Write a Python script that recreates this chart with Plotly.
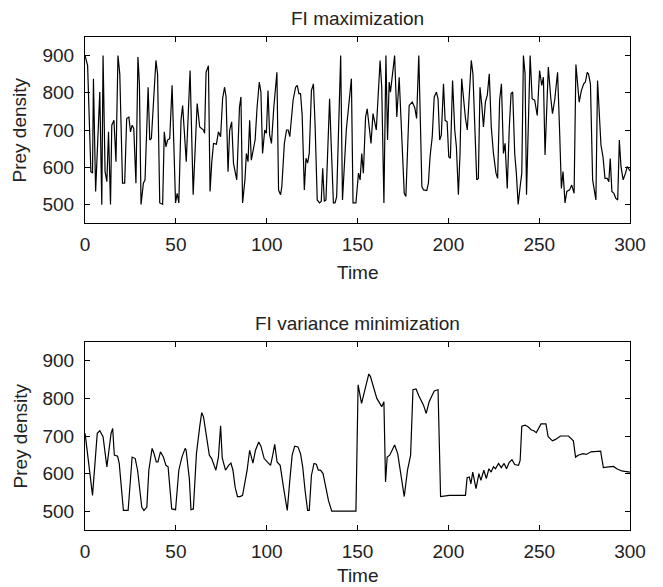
import plotly.graph_objects as go

# ---- Data ----
t_max = [0, 1.4, 3.2, 4.1, 4.6, 5.8, 8.1, 9.2, 9.9, 11, 12, 12.9, 14, 14.7, 15.9, 17, 18.1, 19.1, 20.6, 21.8,
         22.9, 24.1, 25, 25.9, 26.8, 28, 29.1, 29.9, 30.8, 32.1, 33, 34.7, 35.6, 36.5, 39, 39.9, 41.1, 42.7, 43.6,
         44.5, 45.4, 46.6, 47.9, 49.8, 50.7, 51.6, 52.8, 53.7, 55.7, 57.8, 59.5, 61.7, 63.1, 64.3, 65.2, 65.8,
         66.6, 67.9, 68.8, 69.7, 70.7, 72.3, 73.4, 74.6, 75.7, 76.8, 77.6, 78.7, 79.6, 80.7, 81.7, 83.5, 85, 85.8,
         86.7, 88, 88.8, 89.7, 90.6, 91.5, 92.7, 93.6, 94.7, 95.9, 96.8, 97.7, 98.9, 99.8, 100.7, 101.6, 102.6,
         103.9, 105.6, 106.5, 107.6, 108.3, 109.7, 110.9, 111.8, 112.7, 114.5, 115.9, 116.8, 117.7, 118.6, 119.5,
         120.7, 121.6, 122.5, 123.4, 124.6, 125.7, 126.6, 127.8, 129.1, 130, 130.8, 131.7, 132.6, 134.6, 135.4,
         136.7, 137.6, 138.5, 140.7, 141.7, 143.8, 145.6, 146.6, 147.5, 149.1, 150.5, 151.4, 152.3, 153.2, 154.4,
         155.3, 157.4, 158.5, 160.3, 161.1, 162.4, 163.3, 164.5, 165.6, 166.5, 167.4, 168.1, 170.4, 171.6, 172.9,
         175.7, 176.6, 178.4, 180.1, 181.5, 182.5, 183.7, 184.6, 185.4, 186.3, 188.1, 189, 189.9, 191.1, 192.2,
         193.4, 194.3, 195.2, 196.1, 197.3, 198.2, 199.3, 200.2, 201.1, 202.3, 203.5, 204.4, 205.5, 206.4, 207.3,
         208.5, 209.4, 210.4, 211.5, 212.6, 213.5, 214.7, 215.6, 216.5, 217.4, 218.4, 219.3, 220.4, 221.4, 222.5,
         223.6, 224.8, 226.2, 227.1, 228.2, 229.2, 230.3, 231.2, 232.4, 233.5, 234.5, 235.4, 236.5, 237.4, 238.4,
         239.5, 240.4, 241.3, 242.2, 243, 245, 246.1, 247.5, 248.9, 250.2, 251.4, 252.3, 253.2, 255, 256.4, 257.3,
         258.5, 260.1, 261.2, 262.2, 263.1, 264.2, 265.2, 266.7, 267.9, 269.2, 270.2, 272, 273.2, 274.5, 275.4,
         276.4, 277.1, 278.2, 279.4, 281.2, 282.1, 283, 284, 285.1, 286.2, 287.4, 288.3, 289.1, 290, 291.1, 292.1,
         293.2, 294.1, 295, 296.2, 297.5, 298.5, 300]
prey_max = [900, 873, 588, 584, 838, 535, 802, 499, 900, 588, 561, 695, 500, 713, 726, 615, 900, 851, 557, 557,
            731, 735, 695, 713, 704, 557, 896, 824, 500, 557, 566, 815, 673, 677, 887, 851, 504, 500, 695,
            655, 673, 677, 820, 504, 530, 504, 726, 766, 615, 860, 526, 771, 708, 704, 700, 691,
            855, 873, 535, 611, 664, 662, 695, 682, 784, 815, 789, 588, 700, 722, 610, 566, 762, 789,
            504, 566, 637, 615, 726, 619, 646, 673, 762, 829, 802, 637, 700, 691, 806, 687, 664,
            762, 855, 539, 526, 548, 664, 700, 700, 682, 780, 815, 820, 798, 798, 740,
            539, 624, 611, 637, 806, 824, 717, 512, 504, 508, 597, 508, 512, 784, 673,
            504, 504, 521, 900, 512, 700, 780, 838, 504, 504, 584, 566, 637, 584, 735,
            757, 664, 744, 700, 780, 887, 815, 504, 900, 673, 829, 802, 900, 735, 842,
            530, 521, 766, 775, 760, 731, 900, 717, 548, 539, 537, 557, 628, 682, 789,
            802, 784, 673, 686, 824, 726, 722, 628, 624, 833, 700, 655, 526, 637, 838,
            762, 731, 700, 798, 887, 851, 673, 566, 570, 815, 766, 708, 776, 793, 851,
            708, 637, 584, 570, 780, 824, 637, 664, 543, 704, 798, 802, 637, 584, 500,
            548, 584, 900, 851, 526, 900, 784, 780, 739, 860, 820, 842, 633, 869, 784, 744,
            780, 855, 700, 543, 588, 504, 535, 539, 552, 530, 876, 775, 806, 824, 829,
            855, 851, 824, 566, 512, 833, 762, 659, 628, 570, 570, 561, 623, 535, 530, 517,
            512, 673, 602, 566, 584, 602, 590]

t_var = [0, 4.1, 6.7, 8.1, 9.9, 12, 14.3, 15.2, 16.1, 17.9, 18.8, 21.1, 23.7, 25.9, 27.6, 28.9, 31.2, 32.4, 34,
         35.1, 36.9, 37.9, 39.2, 40.1, 41.5, 43.1, 44.5, 45.7, 47.7, 49.8, 51.6, 53.3, 55.1, 55.6, 57.4, 58.3,
         59.6, 61.3, 63.1, 64.2, 65.2, 66.7, 68.4, 69.7, 72, 73.4, 74.6, 75.5, 77.3, 79, 80.3, 81.4, 82.6, 83.9,
         85.3, 86.7, 88, 89.2, 90.6, 92.4, 93.8, 95.6, 96.8, 98.6, 100.3, 102.1, 103.3, 104.4, 105.7, 107.4,
         109.2, 111.3, 112.7, 114, 115.4, 117.2, 118.6, 119.8, 121.1, 122.5, 123.4, 124.6, 126, 127.3, 128.4,
         129.6, 131, 132.3, 134, 135.8, 149.1, 150.3, 152.2, 154.4, 156.2, 157.1, 158.5, 160.6, 163.3, 164.5,
         165.4, 166.3, 167.7, 170.4, 172.1, 173.4, 175.7, 177.5, 179.2, 180.5, 182.2, 183.7, 186.3, 187.8,
         189.4, 192.2, 194.3, 195.7, 200.5, 209.4, 210.3, 211.5, 212.4, 213.4, 215.2, 216.8, 217.9, 219.5,
         220.9, 222.3, 223.5, 224.8, 225.9, 227.6, 229.1, 230.7, 232, 233.5, 235, 236.5, 238.6, 239.5, 240.4,
         242.2, 244, 245.7, 247, 248.4, 250, 251, 253.7, 254.9, 257.3, 259, 261.7, 266.1, 268.8, 270, 271.4,
         274.1, 275.9, 278.5, 283.8, 285.3, 288.3, 290.9, 292.7, 295.4, 297.1, 300]
prey_var = [707, 542, 707, 714, 698, 618, 707, 720, 649, 646, 627, 502, 502, 644, 640, 609, 511, 502, 511,
            609, 667, 654, 631, 631, 658, 644, 622, 618, 506, 504, 609, 644, 667, 663, 586, 504,
            506, 653, 725, 762, 751, 707, 649, 640, 609, 644, 727, 642, 609, 622, 628, 609, 564, 539,
            539, 542, 572, 609, 662, 628, 662, 684, 673, 640, 631, 622, 649, 678, 631, 622,
            564, 502, 582, 649, 673, 671, 653, 618, 555, 502, 502, 595, 627, 625, 609,
            609, 600, 564, 528, 500, 500, 836, 787, 830, 865, 858, 836, 800, 778, 791,
            578, 644, 649, 676, 653, 609, 539, 609, 649, 823, 825, 807, 782, 760,
            791, 820, 823, 539, 542, 542, 589, 591, 573, 604, 560, 600, 582, 609,
            587, 613, 604, 618, 613, 627, 616, 627, 613, 630, 637, 624, 622, 635, 726,
            729, 724, 716, 714, 709, 725, 732, 732, 698, 687, 691, 700, 700, 687, 644, 649,
            653, 651, 658, 660, 616, 618, 619, 613, 607, 606, 604]

x_ticks = [0, 50, 100, 150, 200, 250, 300]
y_ticks = [500, 600, 700, 800, 900]
titles = ["FI maximization", "FI variance minimization"]

W, H = 663, 587
FONT = "Liberation Sans, Arial, Helvetica, sans-serif"
FS = 19

def px(x):
    return x / W

def py(y):
    return 1 - y / H

fig = go.Figure()
fig.add_trace(go.Scatter(x=t_max, y=prey_max, mode="lines",
                         line=dict(color="black", width=1.2), xaxis="x", yaxis="y", showlegend=False))
fig.add_trace(go.Scatter(x=t_var, y=prey_var, mode="lines",
                         line=dict(color="black", width=1.2), xaxis="x2", yaxis="y2", showlegend=False))

xdom = [px(82.7), px(645.5)]
top = (37, 223)
bot = (342, 530)

axis_common = dict(showline=True, linecolor="black", linewidth=1.4, mirror="ticks",
                   ticks="inside", ticklen=5, tickwidth=1, tickcolor="black",
                   showgrid=False, zeroline=False,
                   tickfont=dict(family=FONT, size=FS, color="#222"))

fig.update_layout(
    width=W, height=H,
    margin=dict(l=0, r=0, t=0, b=0),
    paper_bgcolor="white", plot_bgcolor="white",
    xaxis=dict(domain=xdom, range=[0, 300], tickvals=x_ticks, anchor="y",
               ticklabelstandoff=4, **axis_common),
    yaxis=dict(domain=[py(top[1]), py(top[0])], range=[450, 950], tickvals=y_ticks, anchor="x",
               ticklabelstandoff=6, **axis_common),
    xaxis2=dict(domain=xdom, range=[0, 300], tickvals=x_ticks, anchor="y2",
                ticklabelstandoff=4, **axis_common),
    yaxis2=dict(domain=[py(bot[1]), py(bot[0])], range=[450, 950], tickvals=y_ticks, anchor="x2",
                ticklabelstandoff=6, **axis_common),
)

cx = (82.7 + 645.5) / 2 / W
ann = []
for (y0, y1), title, tgap in zip([top, bot], titles, [49, 45]):
    ann.append(dict(text=title, x=cx, y=py(y0 - 19), xref="paper", yref="paper",
                    xanchor="center", yanchor="middle", showarrow=False,
                    font=dict(family=FONT, size=FS, color="#222")))
    ann.append(dict(text="Time", x=cx, y=py(y1 + tgap), xref="paper", yref="paper",
                    xanchor="center", yanchor="middle", showarrow=False,
                    font=dict(family=FONT, size=FS, color="#222")))
    ann.append(dict(text="Prey density", x=px(15), y=py((y0 + y1) / 2), xref="paper", yref="paper",
                    xanchor="center", yanchor="middle", showarrow=False, textangle=-90,
                    font=dict(family=FONT, size=FS, color="#222")))
fig.update_layout(annotations=ann)

fig.write_html("out.html")
